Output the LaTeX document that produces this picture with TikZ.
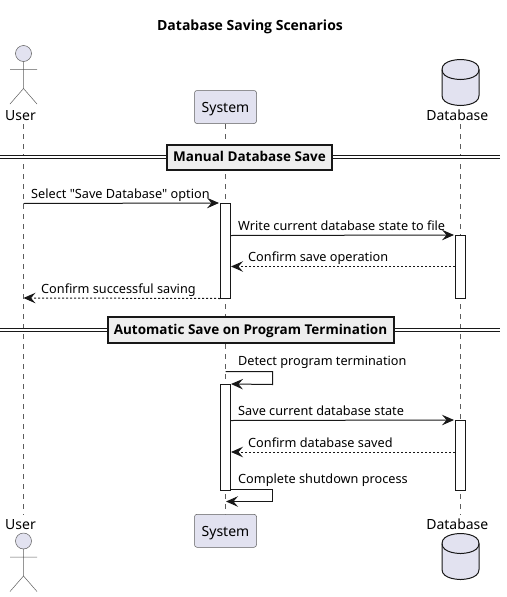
\documentclass[tikz,border=0pt]{standalone}
\usepackage{fontspec}
\setmainfont{Noto Sans}
\newfontfamily\headfont{Open Sans}
\usetikzlibrary{arrows.meta,positioning,shadows}

\definecolor{partfill}{HTML}{E2E2F0}
\definecolor{partline}{HTML}{181818}
\definecolor{divfill}{HTML}{EEEEEE}

\tikzset{
  part/.style={draw=partline!70,line width=0.5pt,fill=partfill,rounded corners=2.5pt,
    minimum width=62pt,minimum height=33pt,inner sep=0pt,text height=11.4pt,text depth=0pt,
    font=\fontsize{14}{16}\selectfont},
  partname/.style={anchor=base,inner sep=0pt,font=\fontsize{14}{16}\selectfont},
  activ/.style={draw=partline,line width=1pt,fill=white,minimum width=10pt,inner sep=0pt},
  msgtext/.style={anchor=base west,inner sep=0pt,font=\fontsize{12.7}{15}\selectfont},
  divbox/.style={draw=partline,line width=2pt,fill=divfill,inner sep=0pt,
    minimum height=25pt,text height=9.4pt,text depth=0pt,font=\headfont\fontsize{13.5}{15}\selectfont\bfseries,
    drop shadow={shadow xshift=1pt,shadow yshift=-1pt,opacity=.35}},
  lifeline/.style={draw=partline!70,line width=0.5pt,dash pattern=on 5pt off 5pt},
  msg/.style={line width=1pt,draw=partline,-{Stealth[length=12pt,width=10.5pt,inset=4.5pt]}},
  reply/.style={msg,dash pattern=on 2pt off 2pt},
  actorfig/.pic={
    \draw[draw=partline!70,line width=0.5pt,fill=partfill] (0,0) circle (8pt);
    \draw[draw=partline!70,line width=0.5pt] (0,8) -- (0,35) (-13.5,16) -- (13.5,16)
      (-13.5,50.5) -- (0,35) -- (13.5,50.5);
  },
  dbfig/.pic={
    \draw[draw=partline,line width=1pt,fill=partfill] (-18.5,10) .. controls (-18.5,0) and (0,0) .. (0,0)
      .. controls (0,0) and (18.5,0) .. (18.5,10) -- (18.5,36)
      .. controls (18.5,46) and (0,46) .. (0,46) .. controls (0,46) and (-18.5,46) .. (-18.5,36) -- cycle;
    \draw[draw=partline,line width=1pt] (-18.5,10) .. controls (-18.5,20) and (0,20) .. (0,20)
      .. controls (0,20) and (18.5,20) .. (18.5,10);
  }
}

\begin{document}
\begin{tikzpicture}[x=1pt,y=-1pt]
\useasboundingbox (0,0) rectangle (506,597);

\node[anchor=base,font=\headfont\fontsize{14}{16}\selectfont\bfseries,inner sep=0pt] (title) at (250,30) {Database Saving Scenarios};

% lifelines
\coordinate (U0) at (23.5,124);
\coordinate (U1) at (23.5,515);
\coordinate (S0) at (225.5,124);
\coordinate (S1) at (225.5,515);
\coordinate (D0) at (460.5,124);
\coordinate (D1) at (460.5,515);
\path[lifeline] (U0) edge (U1) (S0) edge (S1) (D0) edge (D1);

% participants
\pic at (23.5,53.5) {actorfig};
\node[partname] (usertop) at (20.5,120) {User};
\node[part] (systop) at (225.5,107) {System};
\pic at (460.5,59.5) {dbfig};
\node[partname] (dbtop) at (457.3,120) {Database};

\pic at (23.5,541) {actorfig};
\node[partname] (userbot) at (20.5,529) {User};
\node[part] (sysbot) at (225.5,530.8) {System};
\pic at (460.5,533.5) {dbfig};
\node[partname] (dbbot) at (457.3,529) {Database};

% dividers
\coordinate (DL1) at (0,157);
\coordinate (DR1) at (500,157);
\coordinate (DL2) at (0,330);
\coordinate (DR2) at (500,330);
\path[draw=partline,line width=1pt,double=white,double distance=2pt] (DL1) -- (DR1);
\path[draw=partline,line width=1pt,double=white,double distance=2pt] (DL2) -- (DR2);
\node[divbox,minimum width=165pt] (manual) at (249.5,157) {Manual Database Save};
\node[divbox,minimum width=286pt,minimum height=26pt] (auto) at (250.5,329.5) {Automatic Save on Program Termination};

% activations
\node[activ,minimum height=94.5pt] (SA1) at (225.5,250.75) {};
\node[activ,minimum height=62.5pt] (DA1) at (460.5,266.75) {};
\node[activ,minimum height=106pt] (SA2) at (225.5,437.5) {};
\node[activ,minimum height=70pt] (DA2) at (460.5,455.5) {};

% message ends
\coordinate (M1) at (23.5,203.5);
\coordinate (M4) at (23.5,298);
\coordinate (T1a) at (225.5,371.5);
\coordinate (T1b) at (272.5,371.5);
\coordinate (T1c) at (272.5,384.5);
\coordinate (T2b) at (272.5,489.5);
\coordinate (T2c) at (272.5,501.5);
\coordinate (T2d) at (226,501.5);

\path (M1) edge[msg,shorten >=1pt] (SA1.north west)
      (SA1.east |- 0,235.5) edge[msg,shorten >=1pt] (DA1.north west)
      (DA1.west |- 0,266.5) edge[reply] (SA1.east |- 0,266.5)
      (SA1.south west) edge[reply] (M4);

\draw[msg] (T1a) -- (T1b) -- (T1c) -- (SA2.north east);
\path (SA2.east |- 0,420.5) edge[msg,shorten >=1pt] (DA2.north west)
      (DA2.west |- 0,452) edge[reply] (SA2.east |- 0,452);
\draw[msg] (SA2.east |- T2b) -- (T2b) -- (T2c) -- (T2d);

% message labels
\node[msgtext] (L1) at (31,198) {Select \textquotedbl Save Database\textquotedbl{} option};
\node[msgtext] (L2) at (238,230) {Write current database state to file};
\node[msgtext] (L3) at (248,261.5) {Confirm save operation};
\node[msgtext] (L4) at (41,293) {Confirm successful saving};
\node[msgtext] (L5) at (238,365) {Detect program termination};
\node[msgtext] (L6) at (238,415) {Save current database state};
\node[msgtext] (L7) at (248,447) {Confirm database saved};
\node[msgtext] (L8) at (238,483) {Complete shutdown process};

\end{tikzpicture}
\end{document}
